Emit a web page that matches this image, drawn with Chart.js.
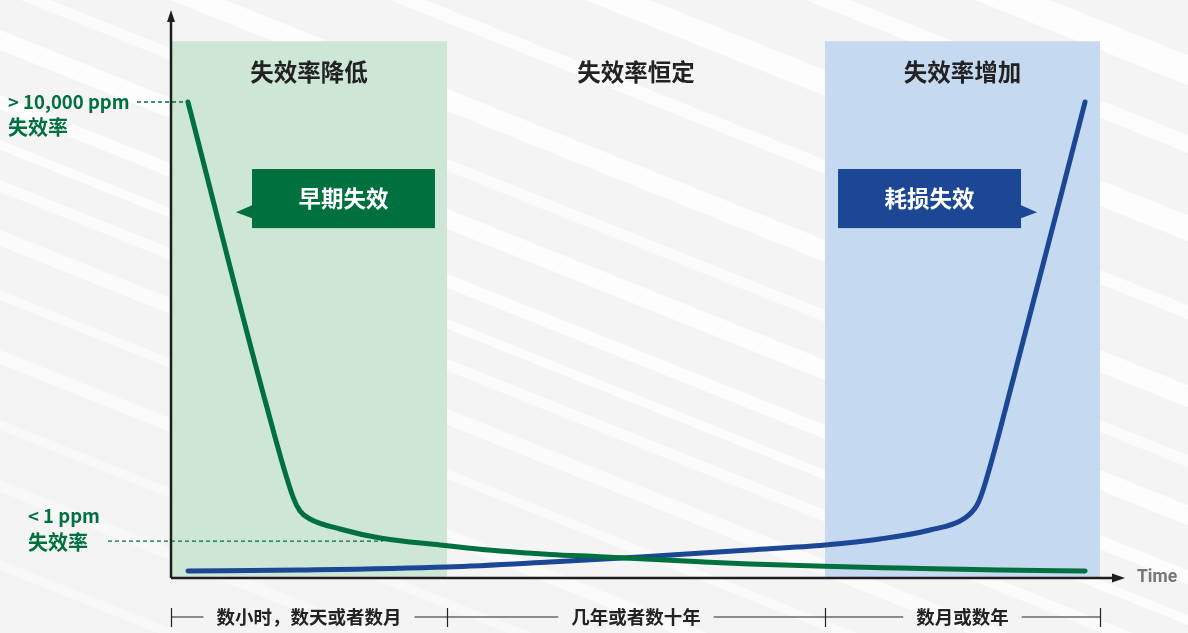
<!DOCTYPE html>
<html>
<head>
<meta charset="utf-8">
<script src="https://cdn.jsdelivr.net/npm/chart.js@4.4.1/dist/chart.umd.min.js"></script>
<style>
html,body{margin:0;padding:0;background:#f4f4f4;}
#wrap{width:1188px;height:633px;position:relative;}
</style>
</head>
<body>
<div id="wrap"><canvas id="c" width="1188" height="633"></canvas></div>
<script>
// ---- data (arbitrary time units 0-100, failure-rate units 0-100) ----
const greenX = [1.78, 9.85, 12.79, 13.52, 14.57, 17.72, 21.91, 28.20, 34.49, 39.73, 44.97, 49.16, 55.45, 60.69, 68.55, 76.42, 86.90, 95.81];
const greenY = [83.80, 31.34, 14.26, 11.80, 10.39, 8.63, 7.04, 5.81, 4.75, 4.15, 3.75, 3.40, 2.85, 2.45, 2.05, 1.76, 1.41, 1.23];
const blueX  = [1.78, 13.52, 28.93, 39.73, 49.16, 60.69, 68.55, 74.32, 79.56, 83.23, 84.49, 85.12, 88.26, 95.81];
const blueY  = [1.23, 1.41, 1.94, 2.82, 3.70, 4.93, 5.81, 6.87, 8.45, 10.56, 12.85, 15.49, 34.86, 83.80];

const phaseBounds = [0, 28.93, 68.55, 97.38];
const phaseTitles = ['失效率降低', '失效率恒定', '失效率增加'];
const phaseSpans  = ['数小时，数天或者数月', '几年或者数十年', '数月或数年'];
const shadeTop = 94.5;
const highLevel = 83.8;   // > 10,000 ppm
const lowLevel = 6.5;     // < 1 ppm
const calloutLabels = ['早期失效', '耗损失效'];
const calloutX = [[8.49, 27.67], [69.92, 89.10]];
const calloutY = [61.6, 72.0];
const calloutTipX = [6.81, 90.78];

const GREEN = '#00703f';
const BLUE = '#1b4794';
const CJK = '"Noto Sans CJK SC","Noto Sans",sans-serif';

// decorative background bands (offset at x=0, width, alpha)
const bands = [[-420,30,0.8],[-340,18,0.7],[-260,26,0.8],[-170,14,0.7],[-90,22,0.8],[-20,12,0.6],[30,20,0.8],[95,14,0.8],[140,10,0.7],[180,12,0.6],[230,16,0.6],[290,10,0.5],[350,14,0.5],[420,10,0.4],[480,12,0.4],[560,10,0.35]];

const pts = (xs, ys) => xs.map((x, i) => ({x, y: ys[i]}));

const deco = {
  id: 'deco',
  beforeDraw(chart) {
    const {ctx, chartArea: a, scales: {x, y}} = chart;
    const W = chart.width, H = chart.height;
    ctx.save();
    ctx.fillStyle = '#f4f4f4';
    ctx.fillRect(0, 0, W, H);
    const k = 0.4;
    bands.forEach(([c, w, al]) => {
      ctx.fillStyle = 'rgba(255,255,255,' + al + ')';
      ctx.beginPath();
      ctx.moveTo(0, c); ctx.lineTo(W, c + k * W);
      ctx.lineTo(W, c + k * W + w); ctx.lineTo(0, c + w);
      ctx.closePath(); ctx.fill();
    });
    // shaded phases
    const top = y.getPixelForValue(shadeTop), bot = y.getPixelForValue(0);
    ctx.fillStyle = '#cde6d6';
    ctx.fillRect(x.getPixelForValue(phaseBounds[0]), top, x.getPixelForValue(phaseBounds[1]) - x.getPixelForValue(phaseBounds[0]), bot - top);
    ctx.fillStyle = '#c5d9f0';
    ctx.fillRect(x.getPixelForValue(phaseBounds[2]), top, x.getPixelForValue(phaseBounds[3]) - x.getPixelForValue(phaseBounds[2]), bot - top);
    // titles
    ctx.fillStyle = '#222';
    ctx.font = 'bold 23.5px ' + CJK;
    ctx.textAlign = 'center'; ctx.textBaseline = 'middle';
    const ty = y.getPixelForValue(89.1);
    phaseTitles.forEach((t, i) => {
      const cx = (x.getPixelForValue(phaseBounds[i]) + x.getPixelForValue(phaseBounds[i + 1])) / 2;
      ctx.fillText(t, cx, ty);
    });
    // callouts
    const cols = [GREEN, BLUE];
    calloutLabels.forEach((lab, i) => {
      const x0 = x.getPixelForValue(calloutX[i][0]), x1 = x.getPixelForValue(calloutX[i][1]);
      const y0 = y.getPixelForValue(calloutY[1]), y1 = y.getPixelForValue(calloutY[0]);
      ctx.fillStyle = cols[i];
      ctx.fillRect(x0, y0, x1 - x0, y1 - y0);
      const tip = x.getPixelForValue(calloutTipX[i]);
      const base = i === 0 ? x0 : x1;
      const ym = y.getPixelForValue(64.4);
      ctx.beginPath();
      ctx.moveTo(base, ym - 7); ctx.lineTo(tip, ym); ctx.lineTo(base, ym + 6);
      ctx.closePath(); ctx.fill();
      ctx.fillStyle = '#fff';
      ctx.font = 'bold 22.5px ' + CJK;
      ctx.fillText(lab, (x0 + x1) / 2, (y0 + y1) / 2);
    });
    // left labels and dashed guides
    ctx.fillStyle = GREEN;
    ctx.textAlign = 'left';
    const hy = y.getPixelForValue(highLevel), ly = y.getPixelForValue(lowLevel);
    ctx.font = 'bold 18.5px ' + CJK;
    ctx.fillText('> 10,000 ppm', a.left - 163, hy);
    ctx.fillText('< 1 ppm', a.left - 143, ly - 25);
    ctx.font = 'bold 20px ' + CJK;
    ctx.fillText('失效率', a.left - 163, hy + 25);
    ctx.fillText('失效率', a.left - 143, ly + 1);
    ctx.strokeStyle = GREEN; ctx.lineWidth = 1.3; ctx.setLineDash([4, 3]);
    ctx.beginPath();
    ctx.moveTo(a.left - 34, hy); ctx.lineTo(x.getPixelForValue(greenX[0]), hy);
    ctx.moveTo(a.left - 63, ly); ctx.lineTo(x.getPixelForValue(22.2), ly);
    ctx.stroke();
    ctx.setLineDash([]);
    // bottom span labels
    const by = bot + 39;
    ctx.strokeStyle = '#222'; ctx.lineWidth = 1.2;
    ctx.fillStyle = '#222';
    ctx.font = 'bold 18.5px ' + CJK;
    ctx.textAlign = 'center';
    phaseSpans.forEach((t, i) => {
      const l = x.getPixelForValue(phaseBounds[i]), r = x.getPixelForValue(phaseBounds[i + 1]);
      const cx = (l + r) / 2;
      const tw = ctx.measureText(t).width;
      ctx.fillText(t, cx, by);
      ctx.beginPath();
      ctx.moveTo(l, by); ctx.lineTo(cx - tw / 2 - 13, by);
      ctx.moveTo(cx + tw / 2 + 13, by); ctx.lineTo(r, by);
      ctx.stroke();
    });
    ctx.beginPath();
    phaseBounds.forEach(b => {
      const px = Math.round(x.getPixelForValue(b)) + 0.5;
      ctx.moveTo(px, by - 9); ctx.lineTo(px, by + 10);
    });
    ctx.stroke();
    ctx.restore();
  },
  beforeDatasetsDraw(chart) {
    const {ctx, chartArea: a} = chart;
    ctx.save();
    ctx.strokeStyle = '#1e1e1e'; ctx.fillStyle = '#1e1e1e'; ctx.lineWidth = 2.5;
    ctx.beginPath();
    ctx.moveTo(a.left, a.bottom); ctx.lineTo(a.left, a.top + 8);
    ctx.moveTo(a.left, a.bottom); ctx.lineTo(a.right - 8, a.bottom);
    ctx.stroke();
    ctx.beginPath();
    ctx.moveTo(a.left, a.top); ctx.lineTo(a.left - 4, a.top + 12); ctx.lineTo(a.left + 4, a.top + 12); ctx.closePath(); ctx.fill();
    ctx.beginPath();
    ctx.moveTo(a.right, a.bottom); ctx.lineTo(a.right - 13, a.bottom - 4.5); ctx.lineTo(a.right - 13, a.bottom + 4.5); ctx.closePath(); ctx.fill();
    ctx.fillStyle = '#777';
    ctx.font = 'bold 17.5px Roboto, "Noto Sans", sans-serif';
    ctx.textAlign = 'left'; ctx.textBaseline = 'middle';
    ctx.fillText('Time', a.right + 12, a.bottom);
    ctx.restore();
  }
};

new Chart(document.getElementById('c'), {
  type: 'line',
  data: {
    datasets: [
      {label: '早期失效', data: pts(greenX, greenY), borderColor: GREEN, borderWidth: 5, pointRadius: 0, cubicInterpolationMode: 'monotone', borderCapStyle: 'round', borderJoinStyle: 'round', fill: false},
      {label: '耗损失效', data: pts(blueX, blueY), borderColor: BLUE, borderWidth: 5, pointRadius: 0, cubicInterpolationMode: 'monotone', borderCapStyle: 'round', borderJoinStyle: 'round', fill: false}
    ]
  },
  options: {
    responsive: false,
    animation: false,
    layout: {padding: {left: 171, right: 63, top: 10, bottom: 55}},
    plugins: {legend: {display: false}, tooltip: {enabled: false}},
    scales: {
      x: {type: 'linear', min: 0, max: 100, display: false},
      y: {type: 'linear', min: 0, max: 100, display: false}
    }
  },
  plugins: [deco]
});
</script>
</body>
</html>
